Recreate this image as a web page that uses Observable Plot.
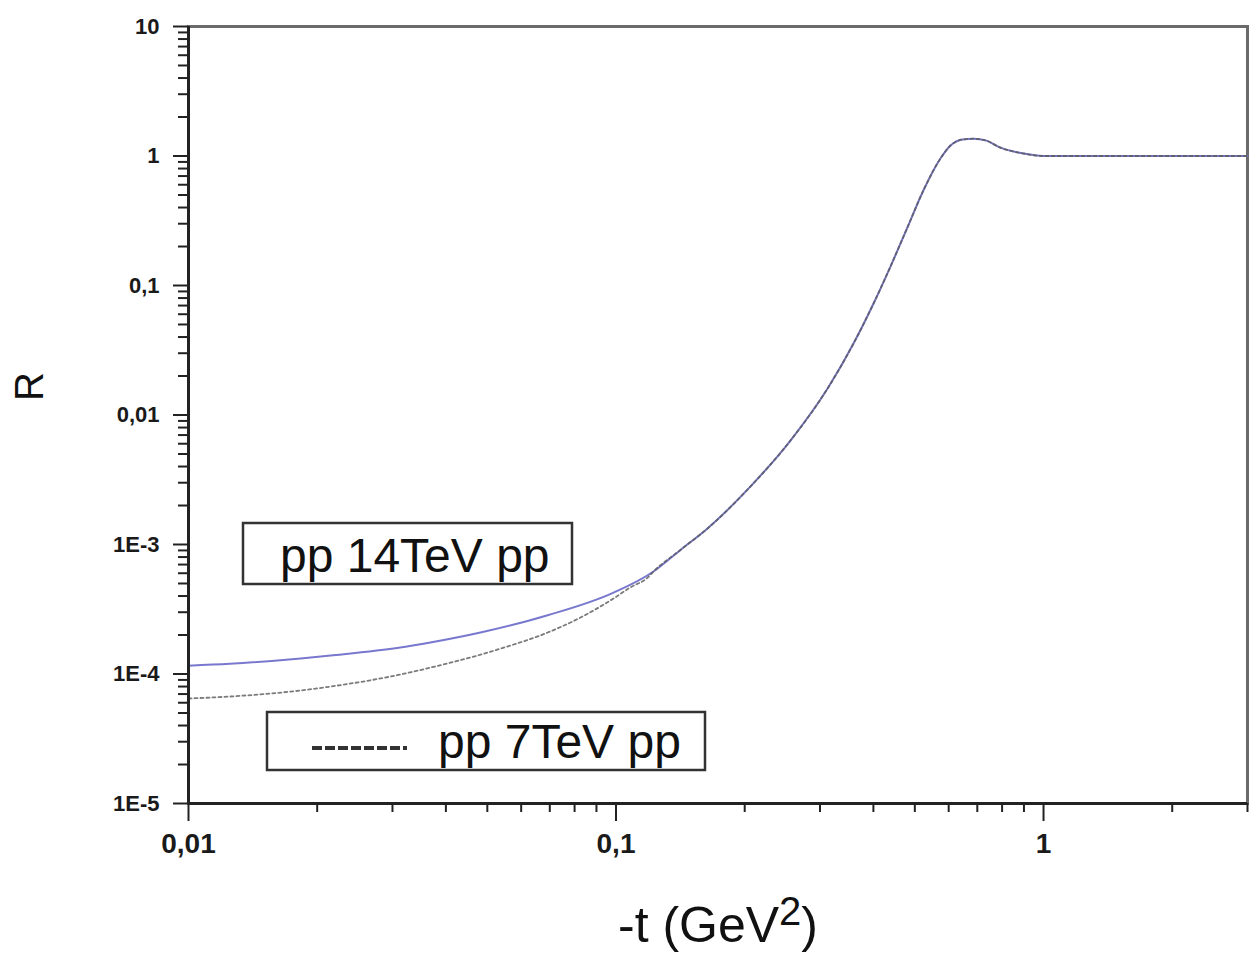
<!DOCTYPE html>
<html>
<head>
<meta charset="utf-8">
<script src="https://cdn.jsdelivr.net/npm/d3@7"></script>
<script src="https://cdn.jsdelivr.net/npm/@observablehq/plot@0.6"></script>
<style>
  body { margin: 0; background: #fff; }
</style>
</head>
<body>
<div id="chart"></div>
<script>
// ---- data ----
const seriesNames = ["pp 14TeV pp", "pp 7TeV pp"];

const t14 = [0.01, 0.0125, 0.0183, 0.0215, 0.0313, 0.0368, 0.0482, 0.0692, 0.0987, 0.1224, 0.1415, 0.1637, 0.2064, 0.2559, 0.3125, 0.3593, 0.4003, 0.4385, 0.4805, 0.5236, 0.574, 0.606, 0.646, 0.686, 0.732, 0.793, 0.898, 1.0, 3.0];
const r14 = [1.16e-4, 1.20e-4, 1.32e-4, 1.39e-4, 1.60e-4, 1.75e-4, 2.09e-4, 2.84e-4, 4.25e-4, 6.19e-4, 9.08e-4, 1.33e-3, 2.81e-3, 6.35e-3, 0.0160, 0.0356, 0.0726, 0.140, 0.281, 0.542, 0.957, 1.205, 1.34, 1.36, 1.32, 1.16, 1.045, 1.0, 1.0];

const t7 = [0.01, 0.0125, 0.0183, 0.0215, 0.0313, 0.0368, 0.0482, 0.0537, 0.0692, 0.0826, 0.0987, 0.108, 0.1186, 0.1224, 0.1415, 0.1637, 0.2064, 0.2559, 0.3125, 0.3593, 0.4003, 0.4385, 0.4805, 0.5236, 0.574, 0.606, 0.646, 0.686, 0.732, 0.793, 0.898, 1.0, 3.0];
const r7 = [6.47e-5, 6.70e-5, 7.46e-5, 8.00e-5, 9.91e-5, 1.12e-4, 1.41e-4, 1.57e-4, 2.09e-4, 2.73e-4, 3.83e-4, 4.66e-4, 5.56e-4, 6.19e-4, 9.08e-4, 1.33e-3, 2.81e-3, 6.35e-3, 0.0160, 0.0356, 0.0726, 0.140, 0.281, 0.542, 0.957, 1.205, 1.34, 1.36, 1.32, 1.16, 1.045, 1.0, 1.0];

const xTickValues = [0.01, 0.1, 1];
const xTickLabels = ["0,01", "0,1", "1"];
const yTickValues = [10, 1, 0.1, 0.01, 0.001, 0.0001, 0.00001];
const yTickLabels = ["10", "1", "0,1", "0,01", "1E-3", "1E-4", "1E-5"];

const xTitleMain = "-t (GeV";
const xTitleSup = "2";
const xTitleEnd = ")";
const yTitle = "R";

// ---- build ----
const d14 = t14.map((t, i) => ({t, R: r14[i]}));
const d7 = t7.map((t, i) => ({t, R: r7[i]}));

const xDomain = [0.01, 3];
const yDomain = [1e-5, 10];
const minorX = d3.scaleLog().domain(xDomain).ticks().filter(v => !xTickValues.some(m => Math.abs(m - v) / m < 1e-9));
const minorY = d3.scaleLog().domain(yDomain).ticks().filter(v => !yTickValues.some(m => Math.abs(m - v) / m < 1e-9));

const font = "'Liberation Sans', Arial, Helvetica, sans-serif";

const chart = Plot.plot({
  width: 1250,
  height: 966,
  marginLeft: 188,
  marginRight: 3,
  marginTop: 26,
  marginBottom: 163,
  style: {fontFamily: font, background: "#fff", color: "#1a1a1a"},
  x: {type: "log", domain: xDomain, label: null},
  y: {type: "log", domain: yDomain, label: null},
  marks: [
    Plot.frame({stroke: "#6a6a6a", strokeWidth: 3}),
    Plot.line(d14, {x: "t", y: "R", stroke: "#7878cf", strokeWidth: 2, curve: "monotone-x"}),
    Plot.line(d7, {x: "t", y: "R", stroke: "#5a5a5a", strokeWidth: 1.8, strokeOpacity: 0.8, strokeDasharray: "3,3", curve: "monotone-x"}),
    Plot.ruleX([xDomain[0]], {stroke: "#222", strokeWidth: 3}),
    Plot.ruleY([yDomain[0]], {stroke: "#222", strokeWidth: 3}),
    Plot.axisX(minorX, {tickSize: 9, tickFormat: () => "", strokeWidth: 2, stroke: "#222", label: null}),
    Plot.axisX(xTickValues, {tickSize: 18, tickPadding: 12, strokeWidth: 2, stroke: "#222",
      tickFormat: d => xTickLabels[xTickValues.indexOf(d)], fontSize: 28, fontWeight: "bold", label: null}),
    Plot.axisY(minorY, {tickSize: 10, tickFormat: () => "", strokeWidth: 2, stroke: "#222", label: null}),
    Plot.axisY(yTickValues, {tickSize: 15, tickPadding: 14, strokeWidth: 2, stroke: "#222",
      tickFormat: d => yTickLabels[yTickValues.indexOf(d)], fontSize: 22, fontWeight: "bold", label: null}),
    Plot.text([yTitle], {frameAnchor: "left", dx: -158, dy: -14, rotate: -90, fontSize: 40, fill: "#111"}),
    Plot.text([xTitleMain], {frameAnchor: "bottom", dy: 138, fontSize: 50, fill: "#111"})
  ]
});

document.getElementById("chart").appendChild(chart);

// superscript for the x-axis title
const svg = d3.select(chart);
svg.selectAll("text").filter(function() { return this.textContent === xTitleMain; })
  .each(function() {
    const t = d3.select(this);
    t.append("tspan").attr("dy", "-0.42em").attr("font-size", 40).text(xTitleSup);
    t.append("tspan").attr("dy", "0.34em").text(xTitleEnd);
  });

// legend boxes
const lg = svg.append("g").attr("font-family", font).attr("fill", "#111").attr("text-anchor", "start");
const b1 = lg.append("g");
b1.append("rect").attr("x", 243).attr("y", 523).attr("width", 329).attr("height", 61)
  .attr("fill", "#fff").attr("stroke", "#333").attr("stroke-width", 2.5);
b1.append("text").attr("x", 280).attr("y", 572).attr("font-size", 48).attr("text-anchor", "start").text(seriesNames[0]);

const b2 = lg.append("g");
b2.append("rect").attr("x", 267).attr("y", 712).attr("width", 438).attr("height", 58)
  .attr("fill", "#fff").attr("stroke", "#333").attr("stroke-width", 2.5);
b2.append("line").attr("x1", 312).attr("x2", 407).attr("y1", 748).attr("y2", 748)
  .attr("stroke", "#333").attr("stroke-width", 4).attr("stroke-dasharray", "10,3");
b2.append("text").attr("x", 438).attr("y", 758).attr("font-size", 48).attr("text-anchor", "start").text(seriesNames[1]);
</script>
</body>
</html>
